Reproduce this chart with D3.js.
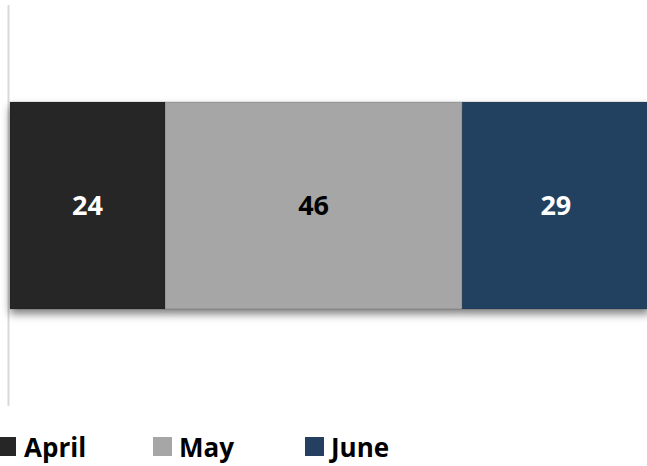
<!DOCTYPE html>
<html><head><meta charset="utf-8">
<script src="https://cdn.jsdelivr.net/npm/d3@7"></script>
<style>body{margin:0;background:#fff}svg{display:block}</style>
</head><body>
<svg id="c" width="647" height="466"></svg>
<script>
const categories = ["April", "May", "June"];
const values = [24, 46, 29];
const colors = ["#262626", "#a6a6a6", "#243f60"];
const labelColors = ["#ffffff", "#000000", "#ffffff"];

const svg = d3.select("#c");
const x = d3.scaleLinear().domain([0, 100]).range([10, 656]);
const y = d3.scaleBand().domain(["row"]).range([5, 406]).paddingInner(0).paddingOuter(0.4686);

const defs = svg.append("defs");
const f = defs.append("filter").attr("id", "sh").attr("x", "-5%").attr("y", "-10%").attr("width", "110%").attr("height", "130%");
f.append("feDropShadow").attr("dx", 0).attr("dy", 5).attr("stdDeviation", 4).attr("flood-color", "#000").attr("flood-opacity", 0.5);

// axis line
svg.append("line").attr("x1", 8.5).attr("x2", 8.5).attr("y1", y.range()[0]).attr("y2", y.range()[1])
  .attr("stroke", "#d9d9d9").attr("stroke-width", 2);

let cum = 0;
const segs = values.map((v, i) => { const s = {cat: categories[i], v, x0: cum, x1: cum + v, i}; cum += v; return s; });

const g = svg.append("g").attr("filter", "url(#sh)");
g.selectAll("rect").data(segs).join("rect")
  .attr("x", d => x(d.x0)).attr("width", d => x(d.x1) - x(d.x0))
  .attr("y", y("row")).attr("height", y.bandwidth())
  .attr("fill", d => colors[d.i])
  .attr("stroke", "rgba(0,0,0,0.15)").attr("stroke-width", 1);

svg.selectAll("text.lbl").data(segs).join("text").attr("class", "lbl")
  .attr("x", d => (x(d.x0) + x(d.x1)) / 2)
  .attr("y", y("row") + y.bandwidth() / 2)
  .attr("dy", "0.35em").attr("text-anchor", "middle")
  .attr("font-family", "'Open Sans', sans-serif").attr("font-weight", 700).attr("font-size", 27)
  .attr("fill", d => labelColors[d.i]).text(d => d.v);

// legend
const legX = [-3, 153, 305];
const lg = svg.selectAll("g.leg").data(categories).join("g").attr("class", "leg")
  .attr("transform", (d, i) => `translate(${legX[i]},437)`);
lg.append("rect").attr("width", 19).attr("height", 19).attr("fill", (d, i) => colors[i]);
lg.append("text").attr("x", (d, i) => i === 0 ? 27 : 26).attr("y", 20)
  .attr("font-family", "'Open Sans', sans-serif").attr("font-weight", 700).attr("font-size", 26)
  .attr("fill", "#000").text(d => d);
</script>
</body></html>
